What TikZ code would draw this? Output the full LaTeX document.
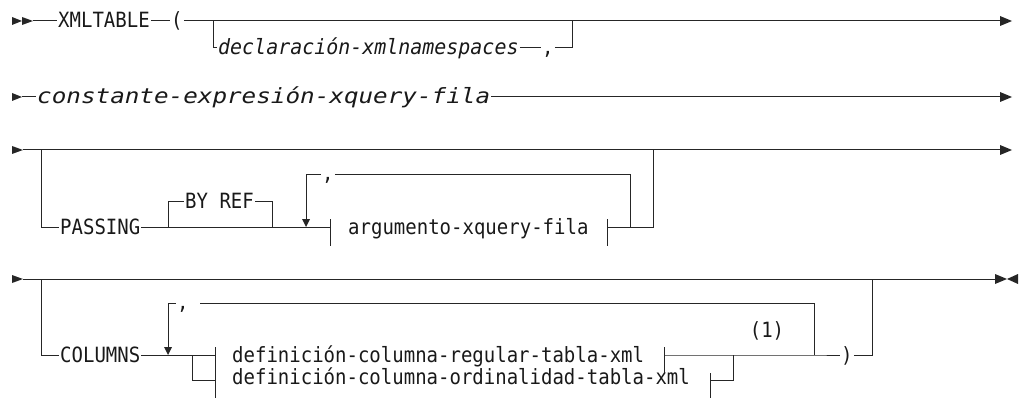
\documentclass[tikz,border=0pt]{standalone}
\usepackage{fontspec}
\usepackage{graphicx}
\newfontfamily\rrfont[FakeStretch=0.905]{DejaVu Sans Mono}
\tikzset{
  rail/.style={line width=1pt, draw=black!85},
  thick rail/.style={line width=1.6pt, draw=black!85},
  lbl/.style={font=\rrfont\fontsize{21}{21}\selectfont, inner xsep=1pt, inner ysep=0pt, anchor=base west, text=black!90},
  ilbl/.style={lbl, font=\rrfont\itshape\fontsize{21}{21}\selectfont},
  tip/.style={fill=black!85, draw=none},
}
\begin{document}
\begin{tikzpicture}[x=1pt,y=1pt]
\useasboundingbox (0,0) rectangle (1019,-398);

% ---------------- Row 1 ----------------
\coordinate (r1) at (0,-21);
\fill[tip] (12,-17) -- (22,-21) -- (12,-25) -- cycle;
\fill[tip] (22,-17) -- (33,-21) -- (22,-25) -- cycle;
\coordinate (s1) at (33,-21);
\node[lbl] (xml) at (57,-27.5) {XMLTABLE};
\node[lbl] (lp) at (170,-27.5) {(};
\coordinate (e1) at (1000,-21);
\fill[tip] (1000,-16) -- (1012,-21) -- (1000,-26) -- cycle;
\draw[rail] (s1) -- (xml.west |- r1);
\draw[rail] (xml.east |- r1) -- (lp.west |- r1);
\draw[rail] (lp.east |- r1) -- (e1);
\coordinate (b1) at (213,-21);
\coordinate (b1d) at (213,-48);
\node[ilbl] (decl) at (217,-54.5) {\scalebox{1.05}[1]{declaración-xmlnamespaces}};
\node[lbl] (c1) at (541,-54.5) {,};
\coordinate (b1u) at (572,-48);
\coordinate (b1e) at (572,-21);
\draw[rail] (b1) -- (b1d) -- (decl.west |- b1d);
\draw[rail] (decl.east |- b1d) -- (c1.west |- b1d);
\draw[rail] (c1.east |- b1d) -- (b1u) -- (b1e);

% ---------------- Row 2 ----------------
\coordinate (r2) at (0,-97);
\fill[tip] (12,-93) -- (22,-97) -- (12,-101) -- cycle;
\coordinate (s2) at (22,-97);
\node[ilbl] (cons) at (36,-103.5) {\scalebox{1.277}[1]{constante-expresión-xquery-fila}};
\coordinate (e2) at (1000,-97);
\fill[tip] (1000,-92) -- (1012,-97) -- (1000,-102) -- cycle;
\draw[rail] (s2) -- (cons.west |- r2);
\draw[rail] (cons.east |- r2) -- (e2);

% ---------------- Row 3 ----------------
\coordinate (r3) at (0,-150);
\fill[tip] (12,-146) -- (23,-150) -- (12,-154) -- cycle;
\coordinate (s3) at (23,-150);
\coordinate (e3) at (1000,-150);
\fill[tip] (1000,-145) -- (1012,-150) -- (1000,-155) -- cycle;
\draw[rail] (s3) -- (e3);
\coordinate (p0) at (41,-150);
\coordinate (p1) at (41,-227);
\coordinate (pl) at (0,-227);
\node[lbl] (pass) at (59,-234) {PASSING};
\draw[rail] (p0) -- (p1) -- (pass.west |- pl);
\coordinate (byl) at (168,-227);
\coordinate (bylu) at (168,-201);
\node[lbl] (byref) at (184,-208) {BY REF};
\coordinate (byru) at (272,-201);
\coordinate (byr) at (272,-227);
\draw[rail] (byl) -- (bylu) -- (byref.west |- bylu);
\draw[rail] (byref.east |- bylu) -- (byru) -- (byr);
\coordinate (t3l) at (330,-227);
\draw[rail] (pass.east |- pl) -- (t3l);
\draw[rail] (330,-219) -- (330,-246);
\node[lbl] (arg) at (347,-234) {argumento-xquery-fila};
\coordinate (t3r) at (607,-227);
\draw[rail] (607,-219) -- (607,-246);
\coordinate (rp3) at (630,-227);
\coordinate (rp3u) at (630,-175);
\coordinate (x3) at (653,-227);
\coordinate (x3u) at (653,-150);
\draw[rail] (t3r) -- (x3) -- (x3u);
\coordinate (dl3u) at (306,-175);
\coordinate (dl3) at (306,-219);
\node[lbl] (c3) at (321,-181) {,};
\draw[rail] (dl3u) -- (c3.west |- dl3u);
\draw[rail] (c3.east |- dl3u) -- (rp3u) -- (rp3);
\draw[rail] (dl3u) -- (dl3);
\fill[tip] (302,-219) -- (310,-219) -- (306,-227) -- cycle;

% ---------------- Row 4 ----------------
\coordinate (r4) at (0,-279);
\fill[tip] (12,-275) -- (23,-279) -- (12,-283) -- cycle;
\coordinate (s4) at (23,-279);
\coordinate (j4) at (872,-279);
\coordinate (e4) at (995,-279);
\draw[rail] (s4) -- (e4);
\draw[thick rail] (877,-279.3) -- (900,-279.3);
\fill[tip] (995,-274) -- (1007,-279) -- (995,-284) -- cycle;
\fill[tip] (1018,-274) -- (1007,-279) -- (1018,-284) -- cycle;
\coordinate (q0) at (41,-279);
\coordinate (q1) at (41,-355);
\coordinate (ql) at (0,-355);
\node[lbl] (cols) at (59,-362) {COLUMNS};
\draw[rail] (q0) -- (q1) -- (cols.west |- ql);
\coordinate (ch) at (192,-355);
\coordinate (chd) at (192,-380);
\coordinate (t4a) at (215,-355);
\coordinate (t4b) at (215,-380);
\draw[rail] (cols.east |- ql) -- (t4a);
\draw[rail] (ch) -- (chd) -- (t4b);
\draw[rail] (215,-347) -- (215,-398);
\node[lbl] (reg) at (231,-362) {definición-columna-regular-tabla-xml};
\node[lbl] (ord) at (231,-384) {definición-columna-ordinalidad-tabla-xml};
\coordinate (t4c) at (664,-355);
\draw[rail] (664,-347) -- (664,-373);
\coordinate (t4d) at (710,-380);
\draw[rail] (710,-373) -- (710,-398);
\coordinate (oj) at (733,-355);
\coordinate (ojd) at (733,-380);
\draw[rail] (t4d) -- (ojd) -- (oj);
\coordinate (rp4) at (814,-355);
\coordinate (rp4u) at (814,-303);
\node[lbl] (rparen) at (840,-362) {)};
\draw[rail] (t4c) -- (rp4) -- (rparen.west |- ql);
\coordinate (jd) at (872,-355);
\draw[rail] (rparen.east |- ql) -- (jd) -- (j4);
\node[lbl, anchor=center] (note) at (767,-331) {(1)};
\coordinate (dl4u) at (168,-303);
\coordinate (dl4) at (168,-347);
\node[lbl] (c4) at (176,-309) {,};
\coordinate (c4r) at (200,-303);
\draw[rail] (dl4u) -- (c4.west |- dl4u);
\draw[rail] (c4r) -- (rp4u) -- (rp4);
\draw[rail] (dl4u) -- (dl4);
\fill[tip] (164,-347) -- (172,-347) -- (168,-355) -- cycle;
\end{tikzpicture}
\end{document}
